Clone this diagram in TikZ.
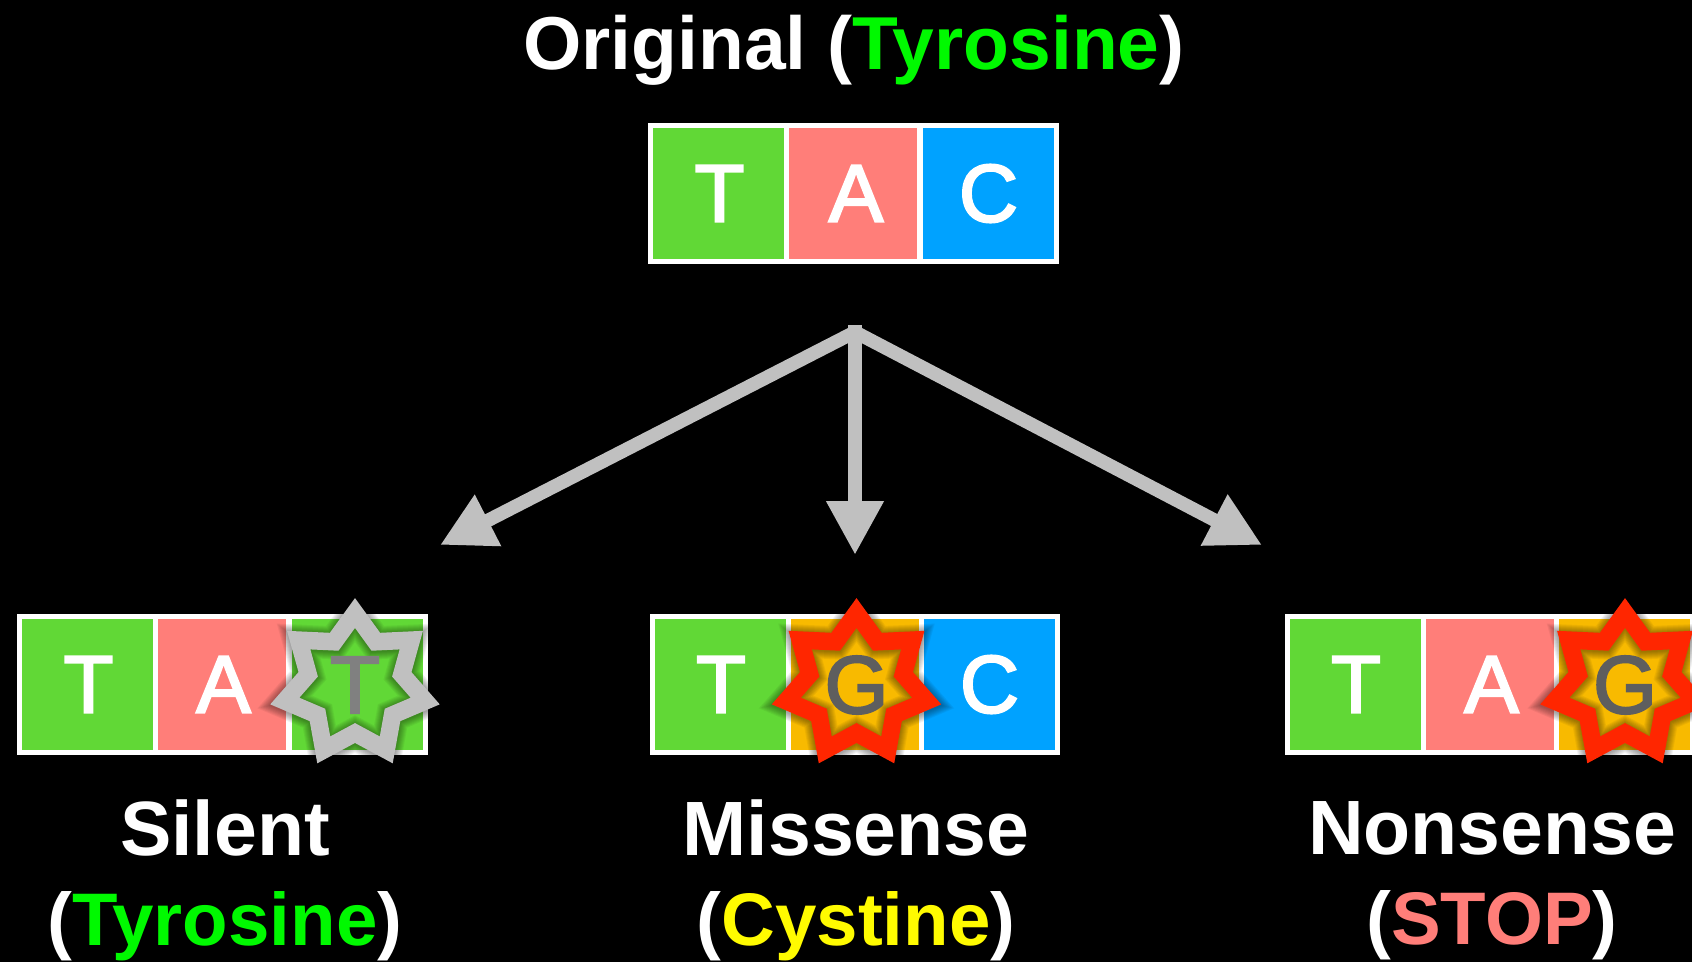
\documentclass[tikz,border=0pt]{standalone}
\usepackage{fontspec}
\setmainfont{Liberation Sans}
\newfontfamily\cellfont[FakeBold=2.5]{Liberation Sans}
\usetikzlibrary{arrows.meta,shapes.geometric}
\definecolor{cellT}{HTML}{61D836}
\definecolor{cellA}{HTML}{FF7E79}
\definecolor{cellC}{HTML}{00A2FF}
\definecolor{cellG}{HTML}{F8BA00}
\definecolor{tyrgreen}{HTML}{00F900}
\definecolor{cysyellow}{HTML}{FFFB00}
\definecolor{stopred}{HTML}{FF7E79}
\definecolor{burst}{HTML}{FF2600}
\definecolor{arrowgray}{HTML}{C0C0C0}
\newcommand{\sublabel}[1]{{\fontsize{74.5}{92}\selectfont #1}}
\tikzset{
  cellwide/.style={draw=white, line width=5pt, outer sep=0pt, inner sep=0pt, text=white,
    minimum width=136pt, minimum height=136pt, font=\fontsize{82}{82}\cellfont},
  cellnarrow/.style={cellwide, minimum width=133pt},
  burststar/.style={star, star points=7, star point ratio=1.5, minimum size=144pt,
    outer sep=0pt, inner sep=0pt, line width=17.5pt, font=\fontsize{82}{82}\cellfont},
  burstglow/.style={star, star points=7, star point ratio=1.5, minimum size=144pt,
    outer sep=0pt, inner sep=0pt, draw=black, draw opacity=0.05},
  title/.style={text=white, align=center, font=\fontsize{77}{92}\selectfont\bfseries},
  branch/.style={draw=arrowgray, fill=arrowgray, line width=13.5pt, -{Triangle[length=54pt,width=54pt]}}
}
\begin{document}
\begin{tikzpicture}[x=1pt, y=-1pt]
\path[use as bounding box, fill=black] (0,0) rectangle (1692,962);

% original
\node[title, font=\fontsize{75}{92}\selectfont\bfseries] (orig) at (854,50) {Original (\textcolor{tyrgreen}{Tyrosine})};
\node[cellwide, fill=cellT] (o1) at (718.5,193.5) {\kern2pt T};
\node[cellnarrow, fill=cellA] (o2) at (853,193.5) {\kern6pt A};
\node[cellwide, fill=cellC] (o3) at (988.5,193.5) {C};

% silent
\node[cellwide, fill=cellT] (s1) at (87.5,684.5) {\kern2pt T};
\node[cellnarrow, fill=cellA] (s2) at (222,684.5) {\kern3pt A};
\node[cellwide, fill=cellT] (s3) at (357.5,684.5) {};

% missense
\node[cellwide, fill=cellT] (m1) at (720,684.5) {\kern2pt T};
\node[cellnarrow, fill=cellG] (m2) at (854.5,684.5) {};
\node[cellwide, fill=cellC] (m3) at (989.5,684.5) {C};

% nonsense
\node[cellwide, fill=cellT] (n1) at (1355,684.5) {\kern2pt T};
\node[cellnarrow, fill=cellA] (n2) at (1490,684.5) {\kern3pt A};
\node[cellwide, fill=cellG] (n3) at (1624.5,684.5) {};

% soft edge round the stars
\foreach \cx in {355,856.5,1625}
  \foreach \w in {19,21,...,33}
    \node[burstglow, line width=\w pt] at (\cx,686) {};

\node[burststar, draw=arrowgray, text=black!50] (silentstar) at (355,685) {T};
\node[burststar, draw=burst, text=black!63] (misstar) at (856.5,685) {G};
\node[burststar, draw=burst, text=black!63] (nonstar) at (1625,685) {G};

% arrows
\coordinate (apex) at (855,325);
\coordinate (apexd) at (855,332);
\coordinate (tipl) at (440,545);
\coordinate (tipm) at (855,555);
\coordinate (tipr) at (1262,545);
\draw[branch] (apexd) -- (tipl);
\draw[branch] (apex) -- (tipm);
\draw[branch] (apexd) -- (tipr);

% labels
\node[title] (silent) at (225,880.5) {Silent\\[-2pt]\sublabel{(\textcolor{tyrgreen}{Tyrosine})}};
\node[title] (missense) at (856,880.5) {Missense\\[-2pt]\sublabel{(\textcolor{cysyellow}{Cystine})}};
\node[title] (nonsense) at (1492,880.5) {Nonsense\\[-2pt]\sublabel{(\textcolor{stopred}{STOP})}};
\end{tikzpicture}
\end{document}
